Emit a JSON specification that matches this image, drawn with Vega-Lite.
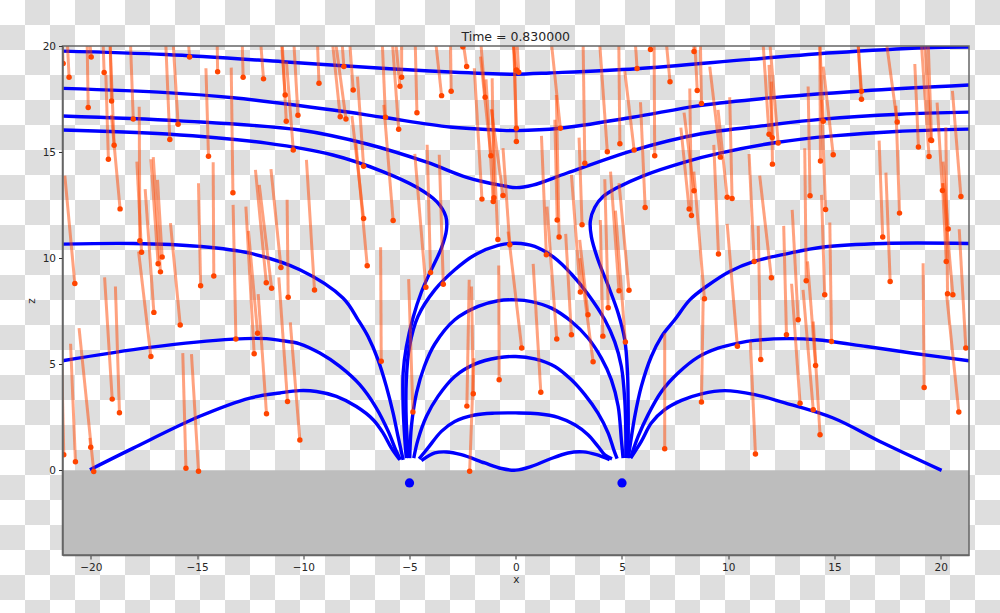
{"$schema":"https://vega.github.io/schema/vega-lite/v6.json","autosize":{"type":"none"},"width":906.5,"height":509,"padding":{"left":62.5,"top":46,"right":31,"bottom":58},"background":"white","title":{"text":"Time = 0.830000","font":"DejaVu Sans","fontSize":12.5,"fontWeight":"normal","color":"#262626","anchor":"middle","offset":-53,"baseline":"alphabetic"},"config":{"view":{"stroke":null},"axis":{"grid":false,"labelFont":"DejaVu Sans","labelFontSize":10.5,"labelColor":"#262626","titleFont":"DejaVu Sans","titleFontSize":10.5,"titleFontWeight":"normal","titleColor":"#262626","tickColor":"#333","domainColor":"#666","domainWidth":1.5,"tickSize":4}},"datasets":{"cells":[{"c":[1,3,5,7,9,11,13,15,17,19,21,23,25,27,29,31,33,35,37,39],"r":[0,2,4,6,8,10,12,14,16,18,20,22,24]},{"c":[0,2,4,6,8,10,12,14,16,18,20,22,24,26,28,30,32,34,36,38],"r":[1,3,5,7,9,11,13,15,17,19,21,23]}],"ground":[{"x":-21.33,"x2":21.33,"z":0,"z2":-4}],"sources":[{"x":-5,"z":-0.6},{"x":5,"z":-0.6}],"lines":[
{"l":"A","i":0,"x":-21.34,"z":19.76},{"l":"A","i":1,"x":-16.47,"z":19.6},{"l":"A","i":2,"x":-10.96,"z":19.26},{"l":"A","i":3,"x":-8.14,"z":19.07},{"l":"A","i":4,"x":-4.05,"z":18.82},{"l":"A","i":5,"x":-0.75,"z":18.68},{"l":"A","i":6,"x":0,"z":18.67},{"l":"A","i":7,"x":1.6,"z":18.73},{"l":"A","i":8,"x":5.69,"z":18.93},{"l":"A","i":9,"x":11.01,"z":19.37},{"l":"A","i":10,"x":14.92,"z":19.68},{"l":"A","i":11,"x":19.34,"z":19.92},{"l":"A","i":12,"x":21.33,"z":19.95},
{"l":"B","i":0,"x":-21.3,"z":18.0},{"l":"B","i":1,"x":-16.42,"z":17.8},{"l":"B","i":2,"x":-13.3,"z":17.56},{"l":"B","i":3,"x":-8.61,"z":16.98},{"l":"B","i":4,"x":-6.26,"z":16.64},{"l":"B","i":5,"x":-3.1,"z":16.18},{"l":"B","i":6,"x":-0.75,"z":16.03},{"l":"B","i":7,"x":0.03,"z":16.01},{"l":"B","i":8,"x":2.07,"z":16.12},{"l":"B","i":9,"x":5.5,"z":16.64},{"l":"B","i":10,"x":8.66,"z":17.19},{"l":"B","i":11,"x":11.81,"z":17.54},{"l":"B","i":12,"x":16.28,"z":17.88},{"l":"B","i":13,"x":21.33,"z":18.16},
{"l":"C","i":0,"x":-21.33,"z":16.7},{"l":"C","i":1,"x":-15.81,"z":16.47},{"l":"C","i":2,"x":-10.16,"z":16.04},{"l":"C","i":3,"x":-7.0,"z":15.38},{"l":"C","i":4,"x":-4.19,"z":14.52},{"l":"C","i":5,"x":-2.31,"z":13.81},{"l":"C","i":6,"x":-0.75,"z":13.44},{"l":"C","i":7,"x":0.03,"z":13.32},{"l":"C","i":8,"x":0.8,"z":13.44},{"l":"C","i":9,"x":2.39,"z":14.0},{"l":"C","i":10,"x":5.5,"z":15.07},{"l":"C","i":11,"x":8.66,"z":15.85},{"l":"C","i":12,"x":11.81,"z":16.26},{"l":"C","i":13,"x":14.45,"z":16.55},{"l":"C","i":14,"x":18.07,"z":16.78},{"l":"C","i":15,"x":21.33,"z":16.88},
{"l":"DL","i":0,"x":-21.33,"z":16.04},{"l":"DL","i":1,"x":-16.42,"z":15.85},{"l":"DL","i":2,"x":-11.72,"z":15.42},{"l":"DL","i":3,"x":-8.61,"z":14.86},{"l":"DL","i":4,"x":-6.26,"z":14.08},{"l":"DL","i":5,"x":-4.66,"z":13.34},{"l":"DL","i":6,"x":-3.72,"z":12.66},{"l":"DL","i":7,"x":-3.29,"z":11.96},{"l":"DL","i":8,"x":-3.26,"z":11.33},{"l":"DL","i":9,"x":-3.5,"z":10.47},{"l":"DL","i":10,"x":-4.05,"z":9.29},{"l":"DL","i":11,"x":-4.44,"z":8.4},{"l":"DL","i":12,"x":-4.83,"z":7.2},{"l":"DL","i":13,"x":-5.15,"z":5.8},{"l":"DL","i":14,"x":-5.3,"z":4.58},{"l":"DL","i":15,"x":-5.3,"z":3.01},{"l":"DL","i":16,"x":-5.22,"z":1.44},{"l":"DL","i":17,"x":-5.15,"z":0.57},
{"l":"DR","i":0,"x":5.26,"z":0.57},{"l":"DR","i":1,"x":5.29,"z":1.44},{"l":"DR","i":2,"x":5.29,"z":3.01},{"l":"DR","i":3,"x":5.26,"z":4.58},{"l":"DR","i":4,"x":5.13,"z":6.15},{"l":"DR","i":5,"x":4.82,"z":7.4},{"l":"DR","i":6,"x":4.35,"z":8.7},{"l":"DR","i":7,"x":3.87,"z":9.92},{"l":"DR","i":8,"x":3.56,"z":11.0},{"l":"DR","i":9,"x":3.51,"z":11.75},{"l":"DR","i":10,"x":3.72,"z":12.4},{"l":"DR","i":11,"x":4.11,"z":12.9},{"l":"DR","i":12,"x":4.74,"z":13.3},{"l":"DR","i":13,"x":6.0,"z":13.88},{"l":"DR","i":14,"x":8.03,"z":14.55},{"l":"DR","i":15,"x":9.6,"z":14.95},{"l":"DR","i":16,"x":12.27,"z":15.45},{"l":"DR","i":17,"x":14.94,"z":15.76},{"l":"DR","i":18,"x":17.92,"z":15.97},{"l":"DR","i":19,"x":21.33,"z":16.08},
{"l":"EL","i":0,"x":-21.33,"z":10.66},{"l":"EL","i":1,"x":-18.0,"z":10.69},{"l":"EL","i":2,"x":-14.87,"z":10.55},{"l":"EL","i":3,"x":-12.51,"z":10.23},{"l":"EL","i":4,"x":-10.16,"z":9.45},{"l":"EL","i":5,"x":-8.12,"z":8.11},{"l":"EL","i":6,"x":-7.42,"z":7.09},{"l":"EL","i":7,"x":-6.95,"z":6.3},{"l":"EL","i":8,"x":-6.48,"z":5.2},{"l":"EL","i":9,"x":-6.09,"z":3.95},{"l":"EL","i":10,"x":-5.77,"z":2.69},{"l":"EL","i":11,"x":-5.54,"z":1.59},{"l":"EL","i":12,"x":-5.3,"z":0.49},
{"l":"ER","i":0,"x":21.33,"z":10.69},{"l":"ER","i":1,"x":17.29,"z":10.69},{"l":"ER","i":2,"x":14.47,"z":10.52},{"l":"ER","i":3,"x":12.74,"z":10.2},{"l":"ER","i":4,"x":11.22,"z":9.84},{"l":"ER","i":5,"x":10.07,"z":9.37},{"l":"ER","i":6,"x":8.97,"z":8.66},{"l":"ER","i":7,"x":8.19,"z":8.03},{"l":"ER","i":8,"x":7.48,"z":7.09},{"l":"ER","i":9,"x":6.86,"z":6.3},{"l":"ER","i":10,"x":6.38,"z":5.36},{"l":"ER","i":11,"x":5.91,"z":3.95},{"l":"ER","i":12,"x":5.6,"z":2.53},{"l":"ER","i":13,"x":5.4,"z":1.28},{"l":"ER","i":14,"x":5.29,"z":0.57},
{"l":"FL","i":0,"x":-21.33,"z":5.16},{"l":"FL","i":1,"x":-17.22,"z":5.79},{"l":"FL","i":2,"x":-13.3,"z":6.18},{"l":"FL","i":3,"x":-11.73,"z":6.2},{"l":"FL","i":4,"x":-11.1,"z":6.12},{"l":"FL","i":5,"x":-10.17,"z":5.96},{"l":"FL","i":6,"x":-9.22,"z":5.52},{"l":"FL","i":7,"x":-8.28,"z":4.89},{"l":"FL","i":8,"x":-7.34,"z":4.03},{"l":"FL","i":9,"x":-6.56,"z":2.93},{"l":"FL","i":10,"x":-6.0,"z":1.83},{"l":"FL","i":11,"x":-5.62,"z":0.89},{"l":"FL","i":12,"x":-5.43,"z":0.49},
{"l":"FR","i":0,"x":5.4,"z":0.57},{"l":"FR","i":1,"x":5.76,"z":1.59},{"l":"FR","i":2,"x":6.23,"z":2.62},{"l":"FR","i":3,"x":6.86,"z":3.71},{"l":"FR","i":4,"x":7.64,"z":4.58},{"l":"FR","i":5,"x":8.58,"z":5.33},{"l":"FR","i":6,"x":9.52,"z":5.75},{"l":"FR","i":7,"x":10.46,"z":5.99},{"l":"FR","i":8,"x":11.25,"z":6.12},{"l":"FR","i":9,"x":12.74,"z":6.2},{"l":"FR","i":10,"x":14.15,"z":6.15},{"l":"FR","i":11,"x":16.51,"z":5.83},{"l":"FR","i":12,"x":18.86,"z":5.49},{"l":"FR","i":13,"x":21.33,"z":5.16},
{"l":"GL","i":0,"x":-20.04,"z":0.02},{"l":"GL","i":1,"x":-18.0,"z":1.04},{"l":"GL","i":2,"x":-14.87,"z":2.54},{"l":"GL","i":3,"x":-12.51,"z":3.4},{"l":"GL","i":4,"x":-11.1,"z":3.64},{"l":"GL","i":5,"x":-10.17,"z":3.75},{"l":"GL","i":6,"x":-9.38,"z":3.71},{"l":"GL","i":7,"x":-8.44,"z":3.48},{"l":"GL","i":8,"x":-7.5,"z":3.0},{"l":"GL","i":9,"x":-6.71,"z":2.38},{"l":"GL","i":10,"x":-6.24,"z":1.75},{"l":"GL","i":11,"x":-5.85,"z":1.04},{"l":"GL","i":12,"x":-5.46,"z":0.49},
{"l":"GR","i":0,"x":5.41,"z":0.57},{"l":"GR","i":1,"x":5.91,"z":1.36},{"l":"GR","i":2,"x":6.38,"z":2.22},{"l":"GR","i":3,"x":7.01,"z":2.85},{"l":"GR","i":4,"x":7.8,"z":3.29},{"l":"GR","i":5,"x":8.74,"z":3.6},{"l":"GR","i":6,"x":9.84,"z":3.75},{"l":"GR","i":7,"x":11.25,"z":3.56},{"l":"GR","i":8,"x":12.58,"z":3.2},{"l":"GR","i":9,"x":14.94,"z":2.46},{"l":"GR","i":10,"x":17.29,"z":1.28},{"l":"GR","i":11,"x":20.04,"z":-0.01},
{"l":"H","i":0,"x":-5.04,"z":0.57},{"l":"H","i":1,"x":-5.15,"z":2.22},{"l":"H","i":2,"x":-5.15,"z":4.26},{"l":"H","i":3,"x":-5.0,"z":5.83},{"l":"H","i":4,"x":-4.6,"z":7.25},{"l":"H","i":5,"x":-3.81,"z":8.5},{"l":"H","i":6,"x":-2.87,"z":9.45},{"l":"H","i":7,"x":-1.93,"z":10.15},{"l":"H","i":8,"x":-0.83,"z":10.6},{"l":"H","i":9,"x":0,"z":10.7},{"l":"H","i":10,"x":0.89,"z":10.55},{"l":"H","i":11,"x":1.84,"z":10.0},{"l":"H","i":12,"x":2.62,"z":9.25},{"l":"H","i":13,"x":3.4,"z":8.3},{"l":"H","i":14,"x":4.19,"z":7.09},{"l":"H","i":15,"x":4.66,"z":6.05},{"l":"H","i":16,"x":4.97,"z":4.89},{"l":"H","i":17,"x":5.13,"z":3.32},{"l":"H","i":18,"x":5.18,"z":1.75},{"l":"H","i":19,"x":5.18,"z":0.57},
{"l":"I","i":0,"x":-4.99,"z":0.57},{"l":"I","i":1,"x":-4.91,"z":2.07},{"l":"I","i":2,"x":-4.67,"z":3.64},{"l":"I","i":3,"x":-4.3,"z":4.9},{"l":"I","i":4,"x":-3.81,"z":5.95},{"l":"I","i":5,"x":-2.87,"z":7.09},{"l":"I","i":6,"x":-1.77,"z":7.72},{"l":"I","i":7,"x":-0.83,"z":7.99},{"l":"I","i":8,"x":0,"z":8.03},{"l":"I","i":9,"x":0.74,"z":7.95},{"l":"I","i":10,"x":1.68,"z":7.64},{"l":"I","i":11,"x":2.62,"z":7.01},{"l":"I","i":12,"x":3.4,"z":6.23},{"l":"I","i":13,"x":4.03,"z":5.28},{"l":"I","i":14,"x":4.5,"z":4.26},{"l":"I","i":15,"x":4.82,"z":3.01},{"l":"I","i":16,"x":4.97,"z":1.44},{"l":"I","i":17,"x":5.05,"z":0.57},
{"l":"J","i":0,"x":-4.8,"z":0.57},{"l":"J","i":1,"x":-4.6,"z":1.44},{"l":"J","i":2,"x":-4.2,"z":2.54},{"l":"J","i":3,"x":-3.66,"z":3.48},{"l":"J","i":4,"x":-2.87,"z":4.42},{"l":"J","i":5,"x":-1.93,"z":5.0},{"l":"J","i":6,"x":-0.83,"z":5.3},{"l":"J","i":7,"x":0,"z":5.36},{"l":"J","i":8,"x":0.89,"z":5.25},{"l":"J","i":9,"x":1.84,"z":4.89},{"l":"J","i":10,"x":2.62,"z":4.26},{"l":"J","i":11,"x":3.25,"z":3.56},{"l":"J","i":12,"x":3.87,"z":2.69},{"l":"J","i":13,"x":4.35,"z":1.75},{"l":"J","i":14,"x":4.61,"z":0.97},{"l":"J","i":15,"x":4.77,"z":0.54},
{"l":"K","i":0,"x":-4.55,"z":0.53},{"l":"K","i":1,"x":-4.13,"z":1.05},{"l":"K","i":2,"x":-3.5,"z":1.83},{"l":"K","i":3,"x":-2.87,"z":2.3},{"l":"K","i":4,"x":-1.93,"z":2.6},{"l":"K","i":5,"x":-0.99,"z":2.69},{"l":"K","i":6,"x":0,"z":2.7},{"l":"K","i":7,"x":1.05,"z":2.66},{"l":"K","i":8,"x":1.99,"z":2.49},{"l":"K","i":9,"x":2.78,"z":2.14},{"l":"K","i":10,"x":3.4,"z":1.67},{"l":"K","i":11,"x":3.87,"z":1.12},{"l":"K","i":12,"x":4.19,"z":0.72},{"l":"K","i":13,"x":4.53,"z":0.53},
{"l":"L","i":0,"x":-4.44,"z":0.45},{"l":"L","i":1,"x":-3.81,"z":0.81},{"l":"L","i":2,"x":-3.26,"z":0.86},{"l":"L","i":3,"x":-2.56,"z":0.73},{"l":"L","i":4,"x":-1.46,"z":0.34},{"l":"L","i":5,"x":-0.67,"z":0.08},{"l":"L","i":6,"x":0,"z":0},{"l":"L","i":7,"x":0.74,"z":0.18},{"l":"L","i":8,"x":1.52,"z":0.49},{"l":"L","i":9,"x":2.46,"z":0.81},{"l":"L","i":10,"x":3.17,"z":0.86},{"l":"L","i":11,"x":3.8,"z":0.73},{"l":"L","i":12,"x":4.42,"z":0.49}
],"parts":[
{"x":-21.3,"z":19.17,"tx":-21.36,"tz":20.6},{"x":-21.02,"z":18.53,"tx":-21.1,"tz":20.13},{"x":-19.98,"z":19.48,"tx":-20.04,"tz":20.13},{"x":-20.12,"z":17.1,"tx":-20.17,"tz":20.13},{"x":-19.37,"z":18.75,"tx":-19.42,"tz":20.13},{"x":-19.02,"z":17.41,"tx":-19.09,"tz":20.13},{"x":-19.17,"z":14.66,"tx":-19.29,"tz":18.64},{"x":-18.9,"z":15.32,"tx":-19.09,"tz":20.13},{"x":-18.62,"z":12.32,"tx":-19.03,"tz":16.75},{"x":-18.0,"z":16.56,"tx":-18.13,"tz":20.13},{"x":-17.69,"z":10.82,"tx":-17.72,"tz":17.14},{"x":-17.61,"z":10.28,"tx":-17.83,"tz":14.55},{"x":-16.83,"z":9.73,"tx":-17.17,"tz":14.66},{"x":-16.72,"z":9.35,"tx":-17.06,"tz":14.76},{"x":-16.64,"z":10.05,"tx":-16.86,"tz":13.69},{"x":-16.28,"z":15.59,"tx":-16.47,"tz":20.13},{"x":-15.89,"z":16.31,"tx":-16.12,"tz":20.13},{"x":-15.35,"z":19.48,"tx":-15.4,"tz":20.13},{"x":-14.46,"z":14.8,"tx":-14.58,"tz":18.95},{"x":-14.03,"z":18.79,"tx":-14.05,"tz":20.13},{"x":-14.21,"z":9.15,"tx":-14.24,"tz":14.52},{"x":-14.83,"z":8.7,"tx":-14.93,"tz":13.53},{"x":-13.31,"z":13.08,"tx":-13.39,"tz":18.98},{"x":-12.83,"z":18.53,"tx":-12.87,"tz":20.13},{"x":-11.87,"z":18.45,"tx":-12.0,"tz":20.13},{"x":-20.75,"z":8.8,"tx":-21.22,"tz":13.89},{"x":-10.85,"z":17.69,"tx":-11.02,"tz":20.13},{"x":-10.8,"z":16.45,"tx":-10.99,"tz":20.13},{"x":-10.25,"z":16.74,"tx":-10.44,"tz":20.13},{"x":-10.47,"z":15.1,"tx":-10.79,"tz":19.26},{"x":-9.26,"z":18.24,"tx":-9.33,"tz":20.13},{"x":-8.26,"z":16.66,"tx":-8.62,"tz":20.13},{"x":-7.99,"z":16.56,"tx":-8.47,"tz":20.13},{"x":-8.09,"z":19.03,"tx":-8.17,"tz":20.13},{"x":-7.65,"z":17.93,"tx":-7.81,"tz":20.13},{"x":-7.16,"z":14.33,"tx":-7.45,"tz":18.56},{"x":-7.16,"z":11.87,"tx":-7.71,"tz":16.7},{"x":-6.13,"z":16.64,"tx":-6.28,"tz":20.13},{"x":-5.77,"z":11.77,"tx":-6.21,"tz":17.22},{"x":-5.51,"z":16.08,"tx":-5.8,"tz":20.13},{"x":-5.45,"z":18.1,"tx":-5.64,"tz":20.13},{"x":-5.37,"z":18.53,"tx":-5.37,"tz":20.13},{"x":-4.65,"z":16.85,"tx":-4.73,"tz":20.13},{"x":-3.49,"z":17.66,"tx":-3.76,"tz":20.13},{"x":-3.04,"z":17.87,"tx":-3.07,"tz":20.13},{"x":-2.31,"z":19.03,"tx":-2.47,"tz":20.13},{"x":-2.49,"z":19.96,"tx":-2.55,"tz":20.6},{"x":-1.59,"z":12.78,"tx":-1.95,"tz":18.95},{"x":-1.44,"z":17.58,"tx":-1.64,"tz":20.13},{"x":-1.17,"z":14.82,"tx":-1.66,"tz":19.5},{"x":-1.06,"z":12.67,"tx":-1.4,"tz":18.43},{"x":-1.03,"z":12.84,"tx":-1.11,"tz":18.48},{"x":-0.84,"z":10.88,"tx":-1.11,"tz":16.99},{"x":-6.99,"z":9.64,"tx":-7.52,"tz":15.42},{"x":-4.23,"z":8.63,"tx":-4.75,"tz":14.91},{"x":-4.01,"z":9.32,"tx":-4.17,"tz":15.34},{"x":-3.41,"z":8.77,"tx":-3.6,"tz":14.87},{"x":-11.74,"z":8.84,"tx":-12.25,"tz":14.16},{"x":-11.49,"z":8.58,"tx":-12.07,"tz":13.45},{"x":-11.05,"z":9.56,"tx":-11.52,"tz":14.19},{"x":-10.71,"z":8.15,"tx":-10.76,"tz":12.75},{"x":-9.47,"z":8.49,"tx":-9.85,"tz":14.63},
{"x":-17.03,"z":7.44,"tx":-17.44,"tz":13.25},{"x":-15.79,"z":6.84,"tx":-16.25,"tz":11.65},{"x":-17.17,"z":5.36,"tx":-17.75,"tz":10.31},{"x":-13.17,"z":6.18,"tx":-13.3,"tz":12.51},{"x":-12.31,"z":5.49,"tx":-12.7,"tz":12.43},{"x":-12.15,"z":6.46,"tx":-12.58,"tz":11.28},{"x":-11.73,"z":2.66,"tx":-12.12,"tz":8.3},{"x":-10.74,"z":3.24,"tx":-11.15,"tz":9.09},{"x":-10.16,"z":1.42,"tx":-10.61,"tz":6.97},{"x":-18.99,"z":3.35,"tx":-19.35,"tz":9.09},{"x":-18.65,"z":2.71,"tx":-18.84,"tz":8.66},{"x":-20.72,"z":0.4,"tx":-20.95,"tz":5.96},{"x":-20.0,"z":1.08,"tx":-20.04,"tz":1.52},{"x":-19.86,"z":-0.06,"tx":-20.55,"tz":6.7},{"x":-21.27,"z":0.73,"tx":-21.36,"tz":4.89},{"x":-15.52,"z":0.09,"tx":-15.67,"tz":5.52},{"x":-14.93,"z":-0.05,"tx":-15.26,"tz":5.47},{"x":-6.33,"z":5.14,"tx":-6.36,"tz":10.51},{"x":-4.84,"z":2.74,"tx":-5.04,"tz":9.01},{"x":-2.3,"z":3.02,"tx":-2.19,"tz":8.98},{"x":-2.0,"z":3.6,"tx":-2.08,"tz":8.66},{"x":-2.17,"z":-0.05,"tx":-1.97,"tz":5.28},{"x":-0.78,"z":4.26,"tx":-0.8,"tz":9.65},
{"x":0.03,"z":18.87,"tx":-0.13,"tz":20.13},{"x":0.14,"z":18.76,"tx":0.06,"tz":20.13},{"x":0.03,"z":16.12,"tx":-0.09,"tz":20.13},{"x":0.03,"z":15.5,"tx":-0.09,"tz":20.13},{"x":-0.6,"z":12.95,"tx":-1.15,"tz":17.03},{"x":-0.28,"z":10.63,"tx":-0.6,"tz":15.18},{"x":1.44,"z":10.16,"tx":1.21,"tz":15.76},{"x":1.95,"z":11.8,"tx":1.84,"tz":16.52},{"x":2.1,"z":16.12,"tx":1.68,"tz":20.13},{"x":2.04,"z":10.99,"tx":1.91,"tz":17.69},{"x":3.25,"z":14.47,"tx":3.17,"tz":20.13},{"x":3.12,"z":11.57,"tx":2.98,"tz":15.68},{"x":3.04,"z":8.4,"tx":2.62,"tz":13.92},{"x":4.31,"z":15.01,"tx":3.95,"tz":20.13},{"x":4.9,"z":15.39,"tx":4.85,"tz":20.13},{"x":5.57,"z":15.1,"tx":5.13,"tz":18.82},{"x":5.71,"z":18.94,"tx":5.63,"tz":20.13},{"x":6.09,"z":12.39,"tx":5.87,"tz":17.35},{"x":6.54,"z":14.82,"tx":6.51,"tz":20.13},{"x":6.34,"z":19.83,"tx":6.28,"tz":20.6},{"x":7.26,"z":18.31,"tx":7.09,"tz":20.13},{"x":8.39,"z":19.74,"tx":8.35,"tz":20.6},{"x":8.54,"z":17.9,"tx":8.43,"tz":20.13},{"x":8.74,"z":17.29,"tx":8.69,"tz":20.13},{"x":8.39,"z":13.17,"tx":7.92,"tz":16.86},{"x":8.16,"z":12.31,"tx":7.77,"tz":16.15},{"x":8.27,"z":12.01,"tx":8.19,"tz":18.0},{"x":9.63,"z":14.76,"tx":9.13,"tz":19.03},{"x":9.95,"z":12.87,"tx":9.52,"tz":16.99},{"x":10.18,"z":12.81,"tx":10.07,"tz":17.58},{"x":9.54,"z":10.19,"tx":9.32,"tz":15.34},{"x":11.22,"z":9.84,"tx":10.98,"tz":14.91},{"x":11.92,"z":15.84,"tx":11.64,"tz":20.13},{"x":12.07,"z":15.68,"tx":11.92,"tz":19.11},{"x":12.35,"z":15.43,"tx":11.96,"tz":20.13},{"x":12.08,"z":14.43,"tx":12.03,"tz":18.32},{"x":12.03,"z":9.07,"tx":11.48,"tz":13.89},{"x":13.85,"z":12.94,"tx":13.76,"tz":18.09},{"x":13.67,"z":8.93,"tx":13.6,"tz":15.18},{"x":14.34,"z":14.58,"tx":14.31,"tz":20.13},{"x":14.47,"z":16.45,"tx":14.31,"tz":20.13},{"x":14.94,"z":14.87,"tx":14.47,"tz":19.03},{"x":14.58,"z":12.29,"tx":14.39,"tz":17.46},{"x":14.54,"z":8.27,"tx":14.39,"tz":12.98},{"x":16.27,"z":17.87,"tx":16.11,"tz":20.13},{"x":16.27,"z":17.49,"tx":16.11,"tz":20.13},{"x":17.95,"z":16.42,"tx":17.45,"tz":20.13},{"x":17.27,"z":10.99,"tx":17.1,"tz":15.54},{"x":17.62,"z":8.9,"tx":17.42,"tz":14.03},{"x":18.06,"z":12.12,"tx":17.89,"tz":17.18},{"x":18.95,"z":15.24,"tx":18.78,"tz":19.15},{"x":19.45,"z":14.79,"tx":19.09,"tz":20.13},{"x":19.53,"z":15.57,"tx":19.25,"tz":20.13},{"x":19.57,"z":15.54,"tx":19.41,"tz":20.13},{"x":20.08,"z":13.19,"tx":19.83,"tz":17.33},{"x":20.35,"z":11.37,"tx":20.11,"tz":14.55},{"x":20.26,"z":9.84,"tx":20.08,"tz":13.53},{"x":20.32,"z":8.32,"tx":20.24,"tz":16.17},{"x":20.57,"z":8.27,"tx":20.11,"tz":13.53},{"x":20.95,"z":12.9,"tx":20.55,"tz":17.88},{"x":5.33,"z":8.48,"tx":4.86,"tz":13.53},{"x":4.86,"z":8.46,"tx":4.46,"tz":14.08},{"x":8.88,"z":8.08,"tx":8.38,"tz":14.08},
{"x":0.28,"z":5.76,"tx":-0.36,"tz":11.25},{"x":1.18,"z":3.67,"tx":0.82,"tz":9.73},{"x":1.93,"z":6.18,"tx":1.47,"tz":12.43},{"x":2.62,"z":6.38,"tx":2.35,"tz":11.14},{"x":3.4,"z":7.33,"tx":3.01,"tz":10.86},{"x":3.64,"z":5.11,"tx":3.01,"tz":9.99},{"x":4.1,"z":6.32,"tx":3.98,"tz":11.8},{"x":4.35,"z":7.66,"tx":4.19,"tz":13.72},{"x":5.16,"z":6.04,"tx":4.69,"tz":12.24},{"x":7.01,"z":1.01,"tx":7.01,"tz":6.46},{"x":8.74,"z":3.21,"tx":8.82,"tz":8.03},{"x":10.43,"z":5.84,"tx":9.95,"tz":11.61},{"x":11.53,"z":5.22,"tx":11.41,"tz":11.52},{"x":11.28,"z":0.76,"tx":11.04,"tz":6.07},{"x":12.74,"z":6.38,"tx":12.61,"tz":11.52},{"x":13.29,"z":7.09,"tx":13.01,"tz":12.27},{"x":13.38,"z":3.15,"tx":12.98,"tz":8.79},{"x":14.0,"z":2.85,"tx":13.52,"tz":8.5},{"x":14.11,"z":4.94,"tx":13.73,"tz":9.84},{"x":14.32,"z":1.67,"tx":14.0,"tz":7.01},{"x":14.86,"z":6.07,"tx":14.78,"tz":11.68},{"x":19.22,"z":3.9,"tx":19.17,"tz":9.76},{"x":20.85,"z":2.74,"tx":20.27,"tz":8.35},{"x":21.18,"z":5.76,"tx":20.87,"tz":11.36}
]},"resolve":{"scale":{"x":"independent","y":"independent"}},"layer":[
{"data":{"name":"cells"},"transform":[{"flatten":["c"]},{"flatten":["r"]}],"mark":{"type":"rect","fill":"#dedede","stroke":null,"clip":false},"encoding":{"x":{"field":"c","type":"ordinal","axis":null,"scale":{"type":"band","domain":[0,1,2,3,4,5,6,7,8,9,10,11,12,13,14,15,16,17,18,19,20,21,22,23,24,25,26,27,28,29,30,31,32,33,34,35,36,37,38,39],"range":[-62.5,937.5],"paddingInner":0,"paddingOuter":0}},"y":{"field":"r","type":"ordinal","axis":null,"scale":{"type":"band","domain":[0,1,2,3,4,5,6,7,8,9,10,11,12,13,14,15,16,17,18,19,20,21,22,23,24],"range":[-46,579],"paddingInner":0,"paddingOuter":0}}}},
{"encoding":{"x":{"field":"x","type":"quantitative","title":"x","scale":{"domain":[-21.33,21.33],"nice":false,"zero":false},"axis":{"values":[-20,-15,-10,-5,0,5,10,15,20],"titlePadding":2,"labelPadding":3,"domain":true,"zindex":1}},"y":{"field":"z","type":"quantitative","title":"z","scale":{"domain":[-4,20],"nice":false,"zero":false},"axis":{"values":[0,5,10,15,20],"titlePadding":6,"labelPadding":3,"domain":true,"zindex":1}}},"layer":[
{"data":{"name":"ground"},"mark":{"type":"rect","fill":"#bdbdbd"},"encoding":{"x2":{"field":"x2"},"y2":{"field":"z2"}}},
{"data":{"name":"lines"},"mark":{"type":"line","stroke":"#0000ff","strokeWidth":3.4,"interpolate":"catmull-rom","clip":true},"encoding":{"detail":{"field":"l"},"order":{"field":"i","type":"quantitative"}}},
{"data":{"name":"parts"},"mark":{"type":"rule","stroke":"#ff4500","strokeWidth":3,"opacity":0.5,"clip":true},"encoding":{"x2":{"field":"tx"},"y2":{"field":"tz"}}},
{"data":{"name":"parts"},"mark":{"type":"point","filled":true,"fill":"#ff4500","size":30,"opacity":1,"clip":true}},
{"data":{"name":"sources"},"mark":{"type":"point","filled":true,"fill":"#0000ff","size":85,"opacity":1}}
]},
{"data":{"name":"ground"},"mark":{"type":"rect","fillOpacity":0,"stroke":"#666","strokeWidth":1.5,"clip":false},"encoding":{"x":{"field":"x","type":"quantitative","axis":null,"scale":{"domain":[-21.33,21.33],"nice":false}},"x2":{"field":"x2"},"y":{"datum":20,"type":"quantitative","axis":null,"scale":{"domain":[-4,20],"nice":false}},"y2":{"datum":-4}}}
]}
